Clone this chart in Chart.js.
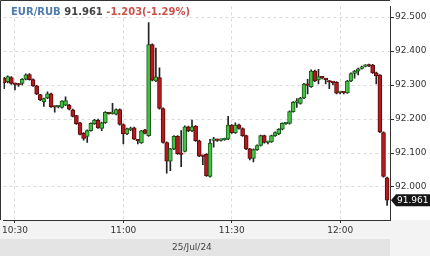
<!DOCTYPE html>
<html>
<head>
<meta charset="utf-8">
<script src="https://cdn.jsdelivr.net/npm/chart.js@4.4.1/dist/chart.umd.min.js"></script>
<style>
  body { margin: 0; background: #fff; }
  #wrap { position: relative; width: 430px; height: 256px; overflow: hidden; }
  #chart { display: block; }
  #title { position: absolute; left: 11px; top: 5px; font: bold 10px 'DejaVu Sans', sans-serif; line-height: 13px; white-space: nowrap; }
  #date { position: absolute; left: 172px; top: 241px; font: 9px 'DejaVu Sans', sans-serif; line-height: 12px; color: #444; }
</style>
</head>
<body>
<div id="wrap">
  <canvas id="chart" width="430" height="256"></canvas>
  <div id="title"></div>
  <div id="date"></div>
</div>
<script>
// paire et variation du jour
const pair = 'EUR/RUB';
const dayLabel = '25/Jul/24';
const change = -1.203;
const changePct = -1.29;

// bougies 1 minute, la première à 10:27
const firstMinute = 627;
const opens = [
  92.320, 92.310, 92.322, 92.304, 92.303, 92.305, 92.317, 92.331, 92.316, 92.298,
  92.272, 92.251, 92.262, 92.274, 92.237, 92.236, 92.234, 92.241, 92.241, 92.227,
  92.210, 92.189, 92.158, 92.149, 92.166, 92.186, 92.196, 92.172, 92.189, 92.218,
  92.216, 92.214, 92.228, 92.184, 92.156, 92.169, 92.174, 92.138, 92.130, 92.168,
  92.151, 92.419, 92.312, 92.322, 92.231, 92.131, 92.076, 92.112, 92.149, 92.098,
  92.105, 92.177, 92.165, 92.179, 92.136, 92.092, 92.096, 92.031, 92.137, 92.139,
  92.137, 92.139, 92.141, 92.182, 92.160, 92.183, 92.172, 92.151, 92.112, 92.084,
  92.110, 92.122, 92.151, 92.131, 92.133, 92.151, 92.156, 92.170, 92.186, 92.187,
  92.222, 92.249, 92.246, 92.262, 92.301, 92.295, 92.341, 92.315, 92.323, 92.318,
  92.311, 92.308, 92.308, 92.278, 92.279, 92.277, 92.312, 92.334, 92.341, 92.349,
  92.355, 92.358, 92.359, 92.336, 92.329, 92.160, 92.027
];
const highs = [
  92.323, 92.327, 92.325, 92.306, 92.305, 92.319, 92.333, 92.334, 92.318, 92.299,
  92.273, 92.262, 92.280, 92.276, 92.238, 92.239, 92.254, 92.265, 92.243, 92.229,
  92.211, 92.190, 92.160, 92.168, 92.189, 92.199, 92.200, 92.191, 92.222, 92.220,
  92.246, 92.230, 92.230, 92.186, 92.173, 92.176, 92.176, 92.139, 92.167, 92.170,
  92.484, 92.421, 92.409, 92.351, 92.233, 92.133, 92.114, 92.151, 92.151, 92.166,
  92.180, 92.179, 92.197, 92.181, 92.138, 92.094, 92.098, 92.140, 92.146, 92.141,
  92.142, 92.144, 92.208, 92.184, 92.189, 92.185, 92.174, 92.153, 92.114, 92.112,
  92.124, 92.153, 92.153, 92.135, 92.153, 92.162, 92.172, 92.189, 92.190, 92.224,
  92.251, 92.260, 92.264, 92.305, 92.317, 92.345, 92.344, 92.346, 92.326, 92.320,
  92.313, 92.310, 92.310, 92.281, 92.281, 92.314, 92.336, 92.343, 92.350, 92.356,
  92.360, 92.362, 92.361, 92.338, 92.331, 92.162, 92.029
];
const lows = [
  92.289, 92.306, 92.302, 92.286, 92.296, 92.300, 92.315, 92.314, 92.296, 92.272,
  92.254, 92.237, 92.260, 92.234, 92.220, 92.233, 92.232, 92.239, 92.227, 92.206,
  92.184, 92.153, 92.138, 92.131, 92.164, 92.184, 92.172, 92.166, 92.187, 92.214,
  92.214, 92.212, 92.182, 92.127, 92.154, 92.166, 92.139, 92.127, 92.128, 92.156,
  92.149, 92.312, 92.310, 92.229, 92.129, 92.041, 92.048, 92.110, 92.096, 92.060,
  92.103, 92.163, 92.163, 92.134, 92.089, 92.066, 92.031, 92.029, 92.117, 92.134,
  92.135, 92.137, 92.139, 92.158, 92.158, 92.170, 92.149, 92.110, 92.080, 92.074,
  92.108, 92.120, 92.129, 92.127, 92.131, 92.149, 92.154, 92.168, 92.184, 92.185,
  92.220, 92.234, 92.244, 92.260, 92.274, 92.293, 92.310, 92.303, 92.318, 92.303,
  92.289, 92.300, 92.274, 92.274, 92.274, 92.275, 92.310, 92.320, 92.330, 92.347,
  92.353, 92.354, 92.334, 92.303, 92.160, 92.029, 91.946
];
const closes = [
  92.306, 92.325, 92.305, 92.302, 92.300, 92.317, 92.330, 92.316, 92.298, 92.274,
  92.256, 92.260, 92.274, 92.236, 92.235, 92.238, 92.253, 92.254, 92.229, 92.208,
  92.186, 92.155, 92.143, 92.166, 92.187, 92.197, 92.174, 92.189, 92.220, 92.216,
  92.218, 92.228, 92.184, 92.156, 92.171, 92.173, 92.141, 92.136, 92.165, 92.158,
  92.419, 92.314, 92.324, 92.231, 92.131, 92.076, 92.112, 92.149, 92.098, 92.096,
  92.177, 92.165, 92.177, 92.136, 92.091, 92.090, 92.033, 92.129, 92.140, 92.137,
  92.139, 92.142, 92.182, 92.160, 92.182, 92.172, 92.151, 92.112, 92.084, 92.110,
  92.122, 92.151, 92.131, 92.133, 92.151, 92.160, 92.170, 92.187, 92.188, 92.222,
  92.249, 92.251, 92.262, 92.303, 92.299, 92.341, 92.312, 92.325, 92.321, 92.316,
  92.309, 92.307, 92.276, 92.279, 92.277, 92.312, 92.334, 92.341, 92.348, 92.353,
  92.358, 92.356, 92.336, 92.327, 92.162, 92.031, 91.961
];

const lastClose = closes[closes.length - 1];
document.getElementById('title').innerHTML =
  '<span style="color:#4f7cae">' + pair + '</span> ' +
  '<span style="color:#444">' + lastClose.toFixed(3) + '</span> ' +
  '<span style="color:#c8524c">' + change.toFixed(3) + '(' + changePct.toFixed(2) + '%)</span>';
document.getElementById('date').textContent = dayLabel;

const times = opens.map((o, i) => firstMinute + i);
const up = opens.map((o, i) => closes[i] >= o);

// fond, cadre et étiquette du dernier prix
const frame = {
  id: 'frame',
  beforeDraw(chart) {
    const { ctx, chartArea: a, width, height } = chart;
    ctx.save();
    ctx.fillStyle = '#fff';
    ctx.fillRect(0, 0, width, height);
    ctx.fillStyle = '#f3f3f3';
    ctx.fillRect(0, a.bottom, width, height - a.bottom);
    ctx.fillStyle = '#e4e4e4';
    ctx.fillRect(0, 239, a.right, height - 239);
    ctx.restore();
  },
  afterDraw(chart) {
    const { ctx, chartArea: a } = chart;
    ctx.save();
    ctx.strokeStyle = '#333';
    ctx.lineWidth = 1;
    ctx.beginPath();
    ctx.moveTo(0.5, a.bottom);
    ctx.lineTo(0.5, 0.5);
    ctx.lineTo(a.right, 0.5);
    ctx.stroke();

    const y = chart.scales.y.getPixelForValue(lastClose);
    ctx.fillStyle = '#151515';
    ctx.beginPath();
    ctx.moveTo(a.right + 1, y);
    ctx.lineTo(a.right + 6, y - 6);
    ctx.lineTo(430, y - 6);
    ctx.lineTo(430, y + 6);
    ctx.lineTo(a.right + 6, y + 6);
    ctx.closePath();
    ctx.fill();
    ctx.fillStyle = '#fff';
    ctx.font = '9px "DejaVu Sans"';
    ctx.textBaseline = 'middle';
    ctx.fillText(lastClose.toFixed(3), a.right + 7, y + 0.5);
    ctx.restore();
  }
};

Chart.defaults.font.family = "'DejaVu Sans', sans-serif";
Chart.defaults.font.size = 9;
Chart.defaults.color = '#333';

new Chart(document.getElementById('chart'), {
  type: 'bar',
  data: {
    datasets: [
      {
        label: 'corps',
        data: times.map((t, i) => ({ x: t, y: [opens[i], closes[i]] })),
        backgroundColor: up.map(u => u ? '#44c244' : '#b3191f'),
        borderColor: up.map(u => u ? '#1b561b' : '#5a0a0a'),
        borderWidth: 1,
        borderSkipped: false,
        barThickness: 4,
        minBarLength: 1.5,
        grouped: false,
        order: 1,
        clip: 0
      },
      {
        label: 'mèche',
        data: times.map((t, i) => ({ x: t, y: [lows[i], highs[i]] })),
        backgroundColor: '#222',
        barThickness: 1,
        grouped: false,
        order: 2,
        clip: 0
      }
    ]
  },
  options: {
    responsive: false,
    animation: false,
    devicePixelRatio: 1,
    layout: { padding: 0 },
    plugins: {
      legend: { display: false },
      tooltip: { enabled: false }
    },
    scales: {
      x: {
        type: 'linear',
        min: 626.8,
        max: 733.8,
        offset: false,
        grid: { color: '#dadada', offset: false, tickLength: 3, tickColor: '#333', tickBorderDash: [] },
        border: { display: true, color: '#333', dash: [3, 3] },
        ticks: {
          stepSize: 30,
          includeBounds: false,
          autoSkip: false,
          maxRotation: 0,
          padding: 2,
          callback: v => Math.floor(v / 60) + ':' + String(v % 60).padStart(2, '0')
        },
        afterFit: s => { s.height = 36; }
      },
      y: {
        position: 'right',
        min: 91.9029,
        max: 92.5314,
        grid: { color: '#dadada', tickLength: 4, tickColor: '#333', tickBorderDash: [] },
        border: { display: true, color: '#333', dash: [3, 3] },
        ticks: {
          stepSize: 0.1,
          includeBounds: false,
          padding: 1,
          callback: v => v.toFixed(3)
        },
        afterFit: s => { s.width = 40; }
      }
    }
  },
  plugins: [frame]
});
</script>
</body>
</html>
